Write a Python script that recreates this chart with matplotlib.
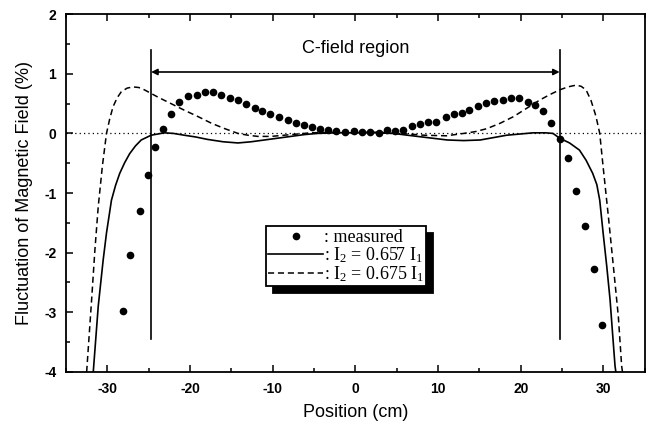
import numpy as np
import matplotlib
matplotlib.use("Agg")
import matplotlib.pyplot as plt
from matplotlib.ticker import MultipleLocator
from matplotlib.lines import Line2D

plt.rcParams['font.family'] = ['Liberation Sans', 'DejaVu Sans']
plt.rcParams['axes.unicode_minus'] = False
plt.rcParams['mathtext.fontset'] = 'custom'
plt.rcParams['mathtext.rm'] = 'Liberation Serif'
plt.rcParams['mathtext.it'] = 'Liberation Serif:italic'

# measured points
meas_x = [-28.1, -27.2, -26.1, -25.1, -24.2, -23.3, -22.3, -21.3, -20.3, -19.2,
          -18.2, -17.2, -16.2, -15.2, -14.2, -13.2, -12.2, -11.3, -10.3, -9.2,
          -8.2, -7.2, -6.2, -5.2, -4.3, -3.3, -2.3, -1.2, -0.2, 0.8,
          1.8, 2.8, 3.8, 4.8, 5.8, 6.8, 7.8, 8.8, 9.8, 10.9,
          11.9, 12.9, 13.8, 14.8, 15.8, 16.8, 17.8, 18.8, 19.8, 20.9,
          21.7, 22.7, 23.7, 24.7, 25.7, 26.7, 27.8, 28.8, 29.8]
meas_y = [-2.98, -2.04, -1.30, -0.70, -0.23, 0.08, 0.33, 0.52, 0.62, 0.65,
          0.70, 0.69, 0.65, 0.60, 0.56, 0.50, 0.43, 0.38, 0.32, 0.28,
          0.23, 0.18, 0.14, 0.11, 0.08, 0.06, 0.04, 0.03, 0.04, 0.03,
          0.02, 0.00, 0.06, 0.04, 0.06, 0.12, 0.15, 0.19, 0.19, 0.28,
          0.32, 0.35, 0.40, 0.46, 0.51, 0.55, 0.56, 0.60, 0.59, 0.53,
          0.47, 0.38, 0.18, -0.10, -0.42, -0.97, -1.55, -2.28, -3.22]

# calculated, I2 = 0.657 I1 (solid)
sol_x = [-31.7, -31.1, -30.5, -30.1, -29.5, -29.0, -28.5, -27.9, -27.3, -26.6,
         -25.9, -24.7, -23.1, -22.0, -20.7, -19.3, -17.9, -16.0, -14.2, -12.6,
         -11.0, -9.4, -7.8, -6.2, -4.6, -2.3, 0.0, 2.3, 4.6, 6.3,
         8.7, 11.1, 13.1, 15.1, 16.7, 18.3, 19.9, 21.5, 23.0, 23.9,
         24.7, 25.9, 27.1, 27.9, 28.7, 29.2, 29.55, 29.96, 30.4, 30.8,
         31.1, 31.4, 31.5]
sol_y = [-4.0, -2.90, -2.12, -1.67, -1.12, -0.87, -0.67, -0.49, -0.34, -0.21,
         -0.11, -0.03, 0.01, 0.00, -0.03, -0.06, -0.10, -0.14, -0.16, -0.14,
         -0.11, -0.08, -0.05, -0.02, 0.00, 0.01, 0.01, 0.01, 0.00, -0.03,
         -0.07, -0.11, -0.12, -0.11, -0.07, -0.03, -0.01, 0.01, 0.01, 0.00,
         -0.08, -0.16, -0.28, -0.45, -0.67, -0.86, -1.12, -1.67, -2.23, -2.79,
         -3.35, -3.90, -4.0]

# calculated, I2 = 0.675 I1 (dashed)
das_x = [-32.5, -31.9, -31.5, -31.1, -30.6, -30.1, -29.7, -29.3, -28.8, -28.3,
         -27.6, -26.9, -26.2, -25.5, -24.7, -23.9, -22.3, -20.7, -19.0, -17.4,
         -15.8, -14.2, -13.0, -11.8, -10.2, -8.6, -5.4, -2.7, 0.0, 2.7,
         5.4, 8.3, 11.0, 13.1, 14.5, 15.9, 17.5, 19.1, 20.7, 22.3,
         23.5, 24.7, 25.7, 26.7, 27.3, 27.9, 28.5, 29.0, 29.2, 29.55,
         29.96, 30.6, 31.2, 31.8, 32.2, 32.3]
das_y = [-4.0, -2.79, -1.95, -1.23, -0.55, 0.00, 0.25, 0.45, 0.60, 0.70,
         0.76, 0.78, 0.77, 0.73, 0.67, 0.61, 0.50, 0.39, 0.28, 0.17,
         0.08, 0.00, -0.03, -0.05, -0.05, -0.03, 0.01, 0.02, 0.02, 0.02,
         0.00, -0.03, -0.04, 0.00, 0.03, 0.08, 0.17, 0.28, 0.42, 0.56,
         0.65, 0.73, 0.78, 0.81, 0.79, 0.73, 0.55, 0.33, 0.22, 0.00,
         -0.56, -1.40, -2.23, -3.07, -3.90, -4.0]

x_ticks = [-30, -20, -10, 0, 10, 20, 30]
y_ticks = [-4, -3, -2, -1, 0, 1, 2]
region_edges = [-24.7, 24.7]

fig = plt.figure(figsize=(6.5, 4.29), dpi=100)
ax = fig.add_axes([0.1015, 0.133, 0.8905, 0.834])

ax.axhline(0, color='black', lw=0.9, ls=(0, (1, 2.5)), zorder=1)
ax.plot(sol_x, sol_y, color='black', lw=1.2, zorder=3)
ax.plot(das_x, das_y, color='black', lw=1.1, ls=(0, (4, 2.5)), zorder=3)
ax.plot(meas_x, meas_y, ls='none', marker='o', ms=4.5, color='black', zorder=4)

for xe in region_edges:
    ax.plot([xe, xe], [-3.45, 1.4], color='black', lw=1.2, zorder=2)

ax.annotate('', xy=(region_edges[0], 1.03), xytext=(region_edges[1], 1.03),
            arrowprops=dict(arrowstyle='<|-|>', color='black', lw=1.2,
                            shrinkA=0, shrinkB=0, mutation_scale=9))
ax.text(0, 1.43, 'C-field region', ha='center', va='center', fontsize=13)

ax.set_xlim(-35, 35)
ax.set_ylim(-4, 2)
ax.set_xticks(x_ticks)
ax.set_yticks(y_ticks)
ax.xaxis.set_minor_locator(MultipleLocator(5))
ax.yaxis.set_minor_locator(MultipleLocator(0.5))
ax.tick_params(which='both', direction='in', top=True, right=False, width=1.1)
ax.tick_params(which='major', length=5, labelsize=10, pad=7)
ax.tick_params(which='minor', length=3)
for lab in ax.get_xticklabels() + ax.get_yticklabels():
    lab.set_fontweight('bold')
for sp in ax.spines.values():
    sp.set_linewidth(1.3)

ax.set_xlabel('Position (cm)', fontsize=13, labelpad=6)
ax.set_ylabel('Fluctuation of Magnetic Field (%)', fontsize=13, labelpad=8)

h1 = Line2D([], [], ls='none', marker='o', ms=4.5, color='black')
h2 = Line2D([], [], color='black', lw=1.2)
h3 = Line2D([], [], color='black', lw=1.1, ls=(0, (4, 2.5)))
leg = ax.legend([h1, h2, h3],
                [': measured', r': I$_2$ = 0.657 I$_1$', r': I$_2$ = 0.675 I$_1$'],
                loc='center', bbox_to_anchor=(0.484, 0.323),
                prop={'family': 'Liberation Serif', 'size': 13},
                handlelength=3.0, handletextpad=0.05, labelspacing=-0.05,
                borderpad=0.15, borderaxespad=0, fancybox=False, framealpha=1,
                edgecolor='black',
                shadow={'ox': 5, 'oy': -5, 'color': 'black', 'alpha': 1})
leg.get_frame().set_linewidth(1.3)

fig.savefig('out.png', dpi=100)
